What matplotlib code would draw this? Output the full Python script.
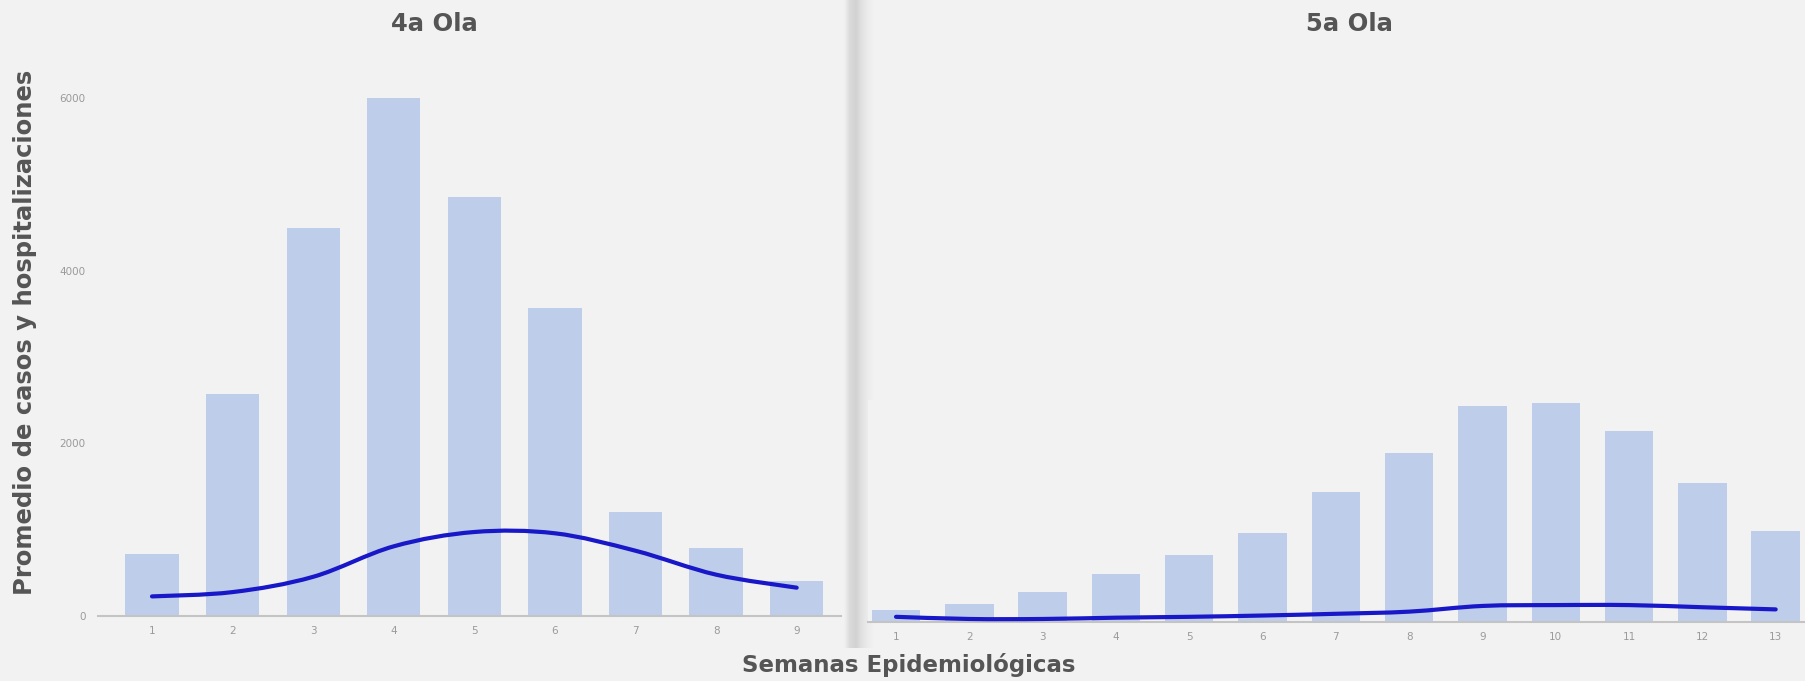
import matplotlib
matplotlib.use("Agg")
import matplotlib.pyplot as plt
import numpy as np
from matplotlib.path import Path
from matplotlib.patches import PathPatch
from matplotlib.colors import LinearSegmentedColormap

# Data
weeks_4 = [1, 2, 3, 4, 5, 6, 7, 8, 9]
cases_4 = [720, 2570, 4490, 6000, 4850, 3565, 1210, 790, 400]
hosp_4 = [227, 277, 454, 807, 973, 958, 756, 479, 328]

weeks_5 = [1, 2, 3, 4, 5, 6, 7, 8, 9, 10, 11, 12, 13]
cases_5 = [136, 211, 352, 553, 780, 1031, 1509, 1957, 2500, 2535, 2213, 1610, 1056]
hosp_5 = [60, 35, 35, 50, 60, 75, 95, 120, 186, 196, 196, 171, 146]

yticks_4 = [0, 2000, 4000, 6000]

BG = "#f2f2f2"
BAR = "#bdcdea"
LINE = "#1818c8"
TEXT = "#555555"
TICK = "#9a9a9a"

W, H = 1805, 681


def smooth_path(x, y):
    """Catmull-Rom style curve through the points, as cubic Bezier segments."""
    pts = np.column_stack([x, y]).astype(float)
    verts = [pts[0]]
    codes = [Path.MOVETO]
    for i in range(len(pts) - 1):
        p0 = pts[i - 1] if i > 0 else pts[i]
        p1 = pts[i]
        p2 = pts[i + 1]
        p3 = pts[i + 2] if i + 2 < len(pts) else pts[i + 1]
        verts += [p1 + (p2 - p0) / 6, p2 - (p3 - p1) / 6, p2]
        codes += [Path.CURVE4] * 3
    return Path(verts, codes)


def style_axis(ax):
    ax.set_facecolor(BG)
    for side in ["top", "right", "left"]:
        ax.spines[side].set_visible(False)
    ax.spines["bottom"].set_color("#c4c4c4")
    ax.spines["bottom"].set_linewidth(1.5)
    ax.tick_params(axis="both", length=0, labelsize=7.5, labelcolor=TICK)
    ax.tick_params(axis="x", pad=7)


def px_box(left, top, right, bottom):
    return [left / W, (H - bottom) / H, (right - left) / W, (bottom - top) / H]


fig = plt.figure(figsize=(W / 100, H / 100), dpi=100, facecolor=BG)

# shadow strip between the two panels
sh = fig.add_axes(px_box(844, 0, 874, 648))
grad = np.linspace(0, 1, 60).reshape(1, -1)
cmap = LinearSegmentedColormap.from_list("sh", [BG, "#dadada", "#d2d2d2", "#e2e2e2", "#ececec", BG])
sh.imshow(grad, aspect="auto", cmap=cmap)
sh.axis("off")

# 4a Ola
ax1 = fig.add_axes(px_box(98, 63.5, 841, 616))
style_axis(ax1)
ax1.bar(weeks_4, cases_4, width=0.66, color=BAR, linewidth=0, zorder=2)
ax1.add_patch(PathPatch(smooth_path(weeks_4, hosp_4), fill=False, edgecolor=LINE,
                        lw=3, capstyle="round", zorder=3))
ax1.set_xlim(0.33, 9.55)
ax1.set_ylim(0, 6400)
ax1.set_xticks(weeks_4)
ax1.set_yticks(yticks_4)
ax1.tick_params(axis="y", pad=9)

# 5a Ola
ax2 = fig.add_axes(px_box(868, 400, 1805, 622))
style_axis(ax2)
ax2.bar(weeks_5, cases_5, width=0.66, color=BAR, linewidth=0, zorder=2)
ax2.add_patch(PathPatch(smooth_path(weeks_5, hosp_5), fill=False, edgecolor=LINE,
                        lw=3, capstyle="round", zorder=3))
ax2.set_xlim(0.618, 13.4)
ax2.set_ylim(0, 2572)
ax2.set_xticks(weeks_5)
ax2.set_yticks([])

# texts
fig.text(434 / W, 1 - 24 / H, "4a Ola", ha="center", va="center",
         fontsize=17.5, fontweight="bold", color=TEXT)
fig.text(1349 / W, 1 - 24 / H, "5a Ola", ha="center", va="center",
         fontsize=17.5, fontweight="bold", color=TEXT)
fig.text(25 / W, 1 - 332 / H, "Promedio de casos y hospitalizaciones", rotation=90,
         ha="center", va="center", fontsize=17.5, fontweight="bold", color=TEXT)
fig.text(909 / W, 1 - 665 / H, "Semanas Epidemiológicas", ha="center", va="center",
         fontsize=16.5, fontweight="bold", color=TEXT)

fig.savefig("out.png", dpi=100, facecolor=BG)
